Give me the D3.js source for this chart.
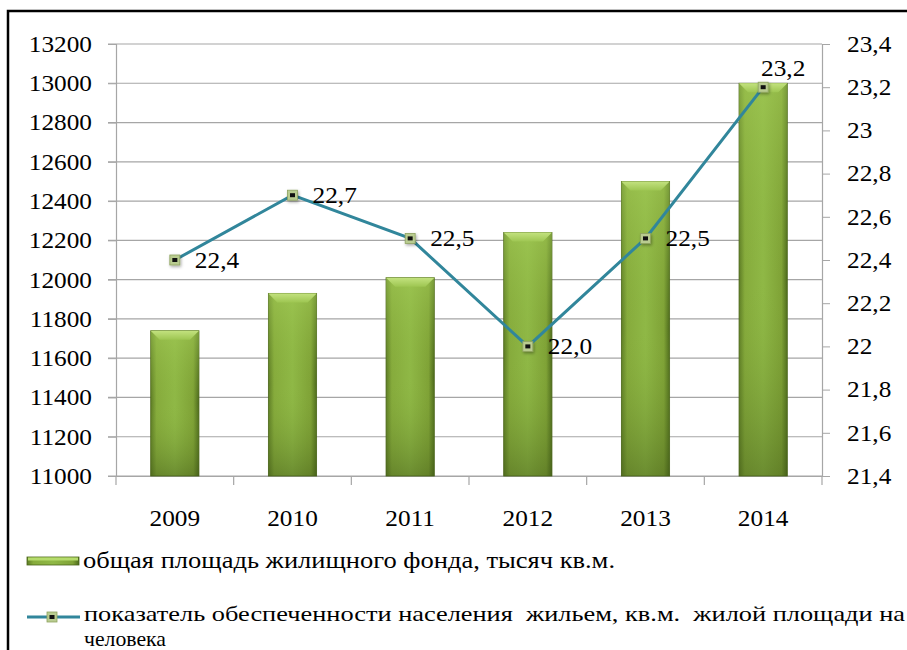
<!DOCTYPE html>
<html>
<head>
<meta charset="utf-8">
<script src="https://cdn.jsdelivr.net/npm/d3@7"></script>
<style>
  body { margin: 0; background: #fff; }
</style>
</head>
<body>
<div id="chart"></div>
<script>
// chart data
const years = ['2009', '2010', '2011', '2012', '2013', '2014'];
const areaValues = [11740, 11930, 12010, 12240, 12500, 13000];
const perPersonValues = [22.4, 22.7, 22.5, 22.0, 22.5, 23.2];
const leftTicks = [11000, 11200, 11400, 11600, 11800, 12000, 12200, 12400, 12600, 12800, 13000, 13200];
const rightTicks = [21.4, 21.6, 21.8, 22, 22.2, 22.4, 22.6, 22.8, 23, 23.2, 23.4];
const barLegend = 'общая площадь жилищного фонда, тысяч кв.м.';
const lineLegend = 'показатель обеспеченности населения  жильем, кв.м.  жилой площади на';
const lineLegend2 = 'человека';

const width = 907, height = 650;
const margin = { left: 116, right: 85, top: 44, bottom: 174 };
const FONT = 'Liberation Serif';
const fmt = v => String(v).replace('.', ',');
const fmt1 = v => v.toFixed(1).replace('.', ',');

const svg = d3.select('#chart').append('svg')
    .attr('width', width)
    .attr('height', height)
    .style('font-family', FONT);

const defs = svg.append('defs');

// bar gradients
const hGrad = defs.append('linearGradient').attr('id', 'barH')
    .attr('x1', 0).attr('x2', 1).attr('y1', 0).attr('y2', 0);
hGrad.append('stop').attr('offset', 0).attr('stop-color', '#5d7c25');
hGrad.append('stop').attr('offset', 0.12).attr('stop-color', '#86ab3c');
hGrad.append('stop').attr('offset', 0.5).attr('stop-color', '#8fb846');
hGrad.append('stop').attr('offset', 0.88).attr('stop-color', '#7fa236');
hGrad.append('stop').attr('offset', 1).attr('stop-color', '#4d6a1c');

const vGrad = defs.append('linearGradient').attr('id', 'barV')
    .attr('x1', 0).attr('x2', 0).attr('y1', 0).attr('y2', 1);
vGrad.append('stop').attr('offset', 0).attr('stop-color', '#a7cf5a').attr('stop-opacity', 0.5);
vGrad.append('stop').attr('offset', 0.5).attr('stop-color', '#8ab33e').attr('stop-opacity', 0);
vGrad.append('stop').attr('offset', 1).attr('stop-color', '#3f5716').attr('stop-opacity', 0.45);

const bevel = defs.append('linearGradient').attr('id', 'bevel')
    .attr('x1', 0).attr('x2', 0).attr('y1', 0).attr('y2', 1);
bevel.append('stop').attr('offset', 0).attr('stop-color', '#c3e27f');
bevel.append('stop').attr('offset', 1).attr('stop-color', '#9ec652');

const shadow = defs.append('filter').attr('id', 'shadow')
    .attr('x', '-50%').attr('y', '-50%').attr('width', '200%').attr('height', '200%');
shadow.append('feDropShadow').attr('dx', 1).attr('dy', 1.5)
    .attr('stdDeviation', 1.5).attr('flood-color', '#000').attr('flood-opacity', 0.35);

// frame
svg.append('rect')
    .attr('x', 8).attr('y', 11)
    .attr('width', 920).attr('height', 660)
    .attr('fill', 'none').attr('stroke', '#000').attr('stroke-width', 2.5);

const x = d3.scaleBand()
    .domain(years)
    .range([margin.left, width - margin.right]);

const yLeft = d3.scaleLinear()
    .domain([11000, 13200])
    .range([height - margin.bottom, margin.top]);

const yRight = d3.scaleLinear()
    .domain([21.4, 23.4])
    .range([height - margin.bottom, margin.top]);

const plotLeft = margin.left, plotRight = width - margin.right;
const plotBottom = height - margin.bottom;

// gridlines
svg.append('g')
    .selectAll('line')
    .data(leftTicks)
    .enter()
    .append('line')
    .attr('x1', plotLeft - 8).attr('x2', plotRight)
    .attr('y1', d => yLeft(d)).attr('y2', d => yLeft(d))
    .attr('stroke', '#a6a6a6').attr('stroke-width', 1.2);

// left axis
const leftAxis = svg.append('g')
    .attr('transform', `translate(${plotLeft},0)`)
    .call(d3.axisLeft(yLeft).tickValues(leftTicks).tickSize(8).tickPadding(16).tickFormat(d => d));
leftAxis.select('.domain').attr('stroke', '#a6a6a6').attr('stroke-width', 1.2);
leftAxis.selectAll('line').attr('stroke', '#a6a6a6');

// right axis
const rightAxis = svg.append('g')
    .attr('transform', `translate(${plotRight},0)`)
    .call(d3.axisRight(yRight).tickValues(rightTicks).tickSize(8).tickPadding(17).tickFormat(fmt));
rightAxis.select('.domain').attr('stroke', '#a6a6a6').attr('stroke-width', 1.2);
rightAxis.selectAll('line').attr('stroke', '#a6a6a6');

// bottom axis
const bottomAxis = svg.append('g')
    .attr('transform', `translate(0,${plotBottom})`)
    .call(d3.axisBottom(x).tickSize(0).tickPadding(34));
bottomAxis.select('.domain').attr('stroke', '#a6a6a6').attr('stroke-width', 1.2);
bottomAxis.selectAll('.sep')
    .data(years.concat(['end']))
    .enter()
    .append('line')
    .attr('class', 'sep')
    .attr('x1', (d, i) => plotLeft + i * x.step())
    .attr('x2', (d, i) => plotLeft + i * x.step())
    .attr('y1', 0).attr('y2', 9)
    .attr('stroke', '#a6a6a6').attr('stroke-width', 1.2);

[leftAxis, rightAxis, bottomAxis].forEach(a => {
    a.attr('font-family', FONT).attr('font-size', 23);
    a.selectAll('text').attr('fill', '#000');
});

// bars
const barW = x.bandwidth() * 0.41;
const bars = svg.append('g').attr('class', 'bars')
    .selectAll('g')
    .data(years.map((y, i) => ({ year: y, value: areaValues[i] })))
    .enter()
    .append('g')
    .attr('transform', d => `translate(${x(d.year) + (x.bandwidth() - barW) / 2},0)`);

bars.append('rect')
    .attr('x', 0).attr('y', d => yLeft(d.value))
    .attr('width', barW).attr('height', d => plotBottom - yLeft(d.value))
    .attr('fill', 'url(#barH)')
    .attr('stroke', '#4a6419').attr('stroke-width', 0.8);
bars.append('rect')
    .attr('x', 0).attr('y', d => yLeft(d.value))
    .attr('width', barW).attr('height', d => plotBottom - yLeft(d.value))
    .attr('fill', 'url(#barV)');
bars.append('path')
    .attr('d', d => {
        const t = yLeft(d.value);
        return `M0,${t} L${barW},${t} L${barW - 9},${t + 9} L9,${t + 9} Z`;
    })
    .attr('fill', 'url(#bevel)');

// line
const pts = years.map((y, i) => ({ year: y, value: perPersonValues[i] }));
const line = d3.line()
    .x(d => x(d.year) + x.bandwidth() / 2)
    .y(d => yRight(d.value));

svg.append('path')
    .datum(pts)
    .attr('d', line)
    .attr('fill', 'none')
    .attr('stroke', '#31869b')
    .attr('stroke-width', 3);

const markers = svg.append('g').selectAll('g')
    .data(pts)
    .enter()
    .append('g')
    .attr('transform', d => `translate(${x(d.year) + x.bandwidth() / 2},${yRight(d.value)})`);
markers.append('rect')
    .attr('x', -5).attr('y', -5).attr('width', 10).attr('height', 10)
    .attr('fill', '#b9cc90').attr('stroke', '#8ea25f').attr('stroke-width', 0.8)
    .attr('filter', 'url(#shadow)');
markers.append('rect')
    .attr('x', -2.5).attr('y', -2).attr('width', 5).attr('height', 4)
    .attr('fill', '#111');

// data labels: right of the marker, last one above-right
svg.append('g').selectAll('text')
    .data(pts)
    .enter()
    .append('text')
    .attr('class', 'dlabel')
    .attr('x', d => x(d.year) + x.bandwidth() / 2 + 20)
    .attr('y', (d, i) => yRight(d.value) + (i === pts.length - 1 ? -11 : 8))
    .attr('text-anchor', (d, i) => i === pts.length - 1 ? 'middle' : 'start')
    .style('font-size', '23px')
    .text(d => fmt1(d.value));

// widen numeric labels a little, the source font is stretched
svg.selectAll('.tick text, .dlabel').each(function() {
    const w = this.getComputedTextLength();
    d3.select(this).attr('textLength', w * 1.1).attr('lengthAdjust', 'spacingAndGlyphs');
});

// legend
const lg = svg.append('g').attr('class', 'legend');
lg.append('rect')
    .attr('x', 27).attr('y', 557).attr('width', 52).attr('height', 8)
    .attr('fill', 'url(#barH)').attr('stroke', '#4a6419').attr('stroke-width', 0.8);
lg.append('rect')
    .attr('x', 28).attr('y', 557.5).attr('width', 50).attr('height', 3)
    .attr('fill', '#b5db6c');
lg.append('text')
    .attr('x', 83).attr('y', 568)
    .attr('textLength', 532).attr('lengthAdjust', 'spacingAndGlyphs')
    .style('font-size', '24px')
    .text(barLegend);

lg.append('line')
    .attr('x1', 27).attr('x2', 80).attr('y1', 617).attr('y2', 617)
    .attr('stroke', '#31869b').attr('stroke-width', 3);
lg.append('rect')
    .attr('x', 47).attr('y', 612).attr('width', 10).attr('height', 10)
    .attr('fill', '#b9cc90').attr('stroke', '#8ea25f').attr('stroke-width', 0.8);
lg.append('rect')
    .attr('x', 49.5).attr('y', 615).attr('width', 5).attr('height', 4)
    .attr('fill', '#111');
lg.append('text')
    .attr('x', 84).attr('y', 621)
    .attr('textLength', 821).attr('lengthAdjust', 'spacingAndGlyphs')
    .style('white-space', 'pre')
    .style('font-size', '22px')
    .text(lineLegend);
lg.append('text')
    .attr('x', 84).attr('y', 646)
    .attr('textLength', 82).attr('lengthAdjust', 'spacingAndGlyphs')
    .style('font-size', '22px')
    .text(lineLegend2);

svg.selectAll('text').style('font-family', FONT).attr('fill', '#000');
</script>
</body>
</html>
